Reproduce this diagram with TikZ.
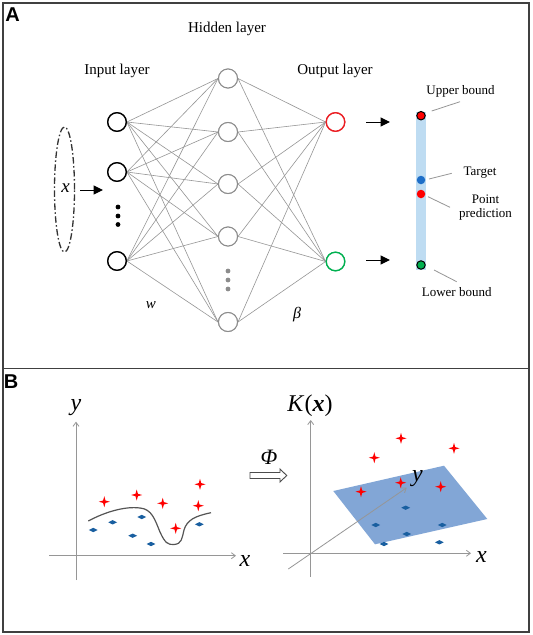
\documentclass[tikz,border=0pt]{standalone}
\usepackage{fontspec}
\setmainfont{Liberation Serif}
\newfontfamily\panelfont{Liberation Sans}
\usetikzlibrary{shapes.geometric,arrows.meta}
\definecolor{framec}{RGB}{64,64,64}
\definecolor{connc}{RGB}{150,150,150}
\definecolor{hidc}{RGB}{140,140,140}
\definecolor{outred}{RGB}{235,30,35}
\definecolor{outgreen}{RGB}{0,176,80}
\definecolor{barc}{RGB}{190,220,242}
\definecolor{tgtblue}{RGB}{30,110,200}
\definecolor{planec}{RGB}{130,166,214}
\definecolor{diac}{RGB}{25,95,160}
\definecolor{axisc}{RGB}{150,150,150}
\definecolor{curvec}{RGB}{85,85,85}
\definecolor{leadc}{RGB}{150,150,150}
\begin{document}
\begin{tikzpicture}[x=1pt,y=-1pt,
  frame/.style={draw=framec,line width=1.5pt},
  inode/.style={circle,draw=black,line width=1.3pt,minimum size=18.5pt,inner sep=0pt},
  hnode/.style={circle,draw=hidc,line width=1pt,minimum size=19pt,inner sep=0pt},
  onode/.style={circle,line width=1.3pt,minimum size=18.5pt,inner sep=0pt},
  conn/.style={draw=connc,line width=0.6pt},
  bigdot/.style={circle,inner sep=0pt,minimum size=4.8pt},
  lbl/.style={inner sep=0pt,font=\fontsize{15}{18}\selectfont},
  slbl/.style={inner sep=0pt,font=\fontsize{13}{15}\selectfont,align=center},
  pdot/.style={circle,inner sep=0pt,minimum size=8.5pt},
  lead/.style={draw=leadc,line width=0.8pt},
  blackarrow/.style={line width=1pt,-{Triangle[length=9.5pt,width=9pt]}},
  axis/.style={draw=axisc,line width=0.8pt,-{Straight Barb[length=4pt,width=6pt]}},
  axlbl/.style={inner sep=0pt,font=\fontsize{24}{28}\selectfont\itshape},
  rstar/.style={star,star points=4,star point ratio=3.2,minimum size=11pt,inner sep=0pt,fill=red},
  bdia/.style={diamond,minimum width=9pt,minimum height=4.5pt,inner sep=0pt,fill=diac}
]
\useasboundingbox (0,0) rectangle (533,635);
\fill[white] (0,0) rectangle (533,635);
% frames
\draw[frame] (3,3) rectangle (529,368.5);
\draw[frame] (3,368.5) rectangle (529,632);
\node[inner sep=0pt,font=\panelfont\bfseries\fontsize{20}{22}\selectfont] (lA) at (12.5,15) {A};
\node[inner sep=0pt,font=\panelfont\bfseries\fontsize{20}{22}\selectfont] (lB) at (11,381.5) {B};

% ===== Panel A =====
\node[lbl] (thid) at (227,29) {Hidden layer};
\node[lbl] (tin) at (117,71) {Input layer};
\node[lbl] (tout) at (335,70.5) {Output layer};

\node[inode] (i1) at (117,122) {};
\node[inode] (i2) at (117,172) {};
\node[inode] (i3) at (117,261) {};
\foreach \yy/\n in {207/1,216/2,224.5/3}
  \node[bigdot,fill=black] (idot\n) at (118,\yy) {};

\node[hnode] (h1) at (228,78.5) {};
\node[hnode] (h2) at (228,132) {};
\node[hnode] (h3) at (228,184) {};
\node[hnode] (h4) at (228,236.5) {};
\node[hnode] (h5) at (228,322) {};
\foreach \yy/\n in {271/1,280/2,289/3}
  \node[bigdot,fill=hidc] (hdot\n) at (228,\yy) {};

\node[onode,draw=outred] (o1) at (335.5,122) {};
\node[onode,draw=outgreen] (o2) at (335.5,261.5) {};

\foreach \a in {1,2,3}
  \foreach \b in {1,...,5}
    \draw[conn] (i\a.east) -- (h\b.west);
\foreach \b in {1,...,5}
  \foreach \c in {1,2}
    \draw[conn] (h\b.east) -- (o\c.west);
% redraw nodes on top
\foreach \a/\yy in {1/122,2/172,3/261}
  \node[inode,fill=white] at (117,\yy) {};
\foreach \b/\yy in {1/78.5,2/132,3/184,4/236.5,5/322}
  \node[hnode,fill=white] at (228,\yy) {};
\node[onode,draw=outred,fill=white] at (335.5,122) {};
\node[onode,draw=outgreen,fill=white] at (335.5,261.5) {};

% input ellipse
\node[ellipse,draw=black!80,line width=1.3pt,dash pattern=on 6.5pt off 2.5pt on 1.5pt off 2.5pt,
      minimum width=20pt,minimum height=125pt,inner sep=0pt] (ell) at (64.5,189.5) {};
\node[inner sep=0pt,font=\fontsize{19}{22}\selectfont\itshape] (tx) at (65.5,188.5) {x};
\coordinate (xa1) at (80,190);
\coordinate (xa2) at (103,190);
\draw[blackarrow] (xa1) -- (xa2);

\node[inner sep=0pt,font=\fontsize{15}{18}\selectfont\itshape] (tw) at (151,305.5) {w};
\node[inner sep=0pt,font=\fontsize{16}{18}\selectfont\itshape] (tb) at (297,315) {β};

% output arrows
\coordinate (oa1) at (366,122);
\coordinate (oa2) at (390,122);
\coordinate (ob1) at (366,260);
\coordinate (ob2) at (390,260);
\draw[blackarrow] (oa1) -- (oa2);
\draw[blackarrow] (ob1) -- (ob2);

% bar
\node[fill=barc,minimum width=10.5pt,minimum height=158pt,inner sep=0pt] (bar) at (421,191) {};
\node[pdot,fill=red,draw=black,line width=1pt] (ub) at (421,115.7) {};
\node[pdot,fill=tgtblue] (tg) at (421,180) {};
\node[pdot,fill=red] (pp) at (421,194) {};
\node[pdot,fill=outgreen,draw=black,line width=1pt] (lb) at (421,265) {};

\node[slbl] (tub) at (460.5,91) {Upper bound};
\node[slbl] (ttg) at (480,172.5) {Target};
\node[slbl] (tpp) at (485.5,207.5) {Point\\[-1pt]prediction};
\node[slbl] (tlb) at (456.7,292.5) {Lower bound};

\coordinate (l1a) at (431.7,111);   \coordinate (l1b) at (460,101.7);
\coordinate (l2a) at (429,179);     \coordinate (l2b) at (451.7,173.3);
\coordinate (l3a) at (428,196.7);   \coordinate (l3b) at (450,207.3);
\coordinate (l4a) at (434,270);     \coordinate (l4b) at (456.7,281.7);
\draw[lead] (l1a) -- (l1b);
\draw[lead] (l2a) -- (l2b);
\draw[lead] (l3a) -- (l3b);
\draw[lead] (l4a) -- (l4b);

% ===== Panel B =====
% left plot
\coordinate (lxa) at (49,555.7);   \coordinate (lxb) at (236,555.7);
\coordinate (lya) at (76,580);     \coordinate (lyb) at (76,421.7);
\draw[axis] (lxa) -- (lxb);
\draw[axis] (lya) -- (lyb);
\node[axlbl] (tly) at (76,408) {y};
\node[axlbl] (tlx) at (245,561) {x};

\draw[curvec,line width=1.2pt] (88.3,521)
  .. controls (105,512) and (125,506) .. (140,508)
  .. controls (152,509) and (155,520) .. (160,532)
  .. controls (165,543) and (168,545) .. (174,544.5)
  .. controls (182,544) and (182,538) .. (184,530)
  .. controls (187,520) and (195,516) .. (211,512.7);

\foreach \px/\py [count=\k] in {104.3/501.7,136.7/495,162.7/503.3,200/484.3,198.3/505.7,175.7/528.3}
  \node[rstar] (ls\k) at (\px,\py) {};
\foreach \px/\py [count=\k] in {93.3/530,112.7/522.3,141.7/517,132.7/535.7,151/544,199.3/524.3}
  \node[bdia] (ld\k) at (\px,\py) {};

% mapping arrow
\node[inner sep=0pt,font=\fontsize{22}{24}\selectfont\itshape] (tphi) at (269,457) {Φ};
\draw[draw=black!70,line width=0.9pt,fill=white] (250,472.5) -- (280,472.5) -- (280,469) -- (286.7,475.5)
  -- (280,482) -- (280,478.5) -- (250,478.5) -- cycle;

% right plot
\fill[planec] (333.3,491) -- (444,465.7) -- (487.3,519) -- (375,544.3) -- cycle;
\coordinate (rxa) at (283.3,553.3);  \coordinate (rxb) at (471,553.3);
\coordinate (rya) at (310.7,576.7);  \coordinate (ryb) at (310.7,420);
\coordinate (rza) at (288.3,569);    \coordinate (rzb) at (406.7,487.7);
\draw[axis] (rxa) -- (rxb);
\draw[axis] (rya) -- (ryb);
\draw[axis] (rza) -- (rzb);
\node[inner sep=0pt,font=\fontsize{24}{28}\selectfont] (tK) at (310,406) {\textit{K}(\textbf{\textit{x}})};
\node[axlbl] (trx) at (481.5,557) {x};
\node[axlbl] (trz) at (417.5,479) {y};

\foreach \px/\py [count=\k] in {401/438.3,374.3/457.7,454/448.3,361/491.7,400.7/482.7,440.7/486.7}
  \node[rstar] (rs\k) at (\px,\py) {};
\foreach \px/\py [count=\k] in {405.7/507.7,375.7/525,442.3/525,406.7/534,384/544,439.3/542.3}
  \node[bdia] (rd\k) at (\px,\py) {};
\end{tikzpicture}
\end{document}
